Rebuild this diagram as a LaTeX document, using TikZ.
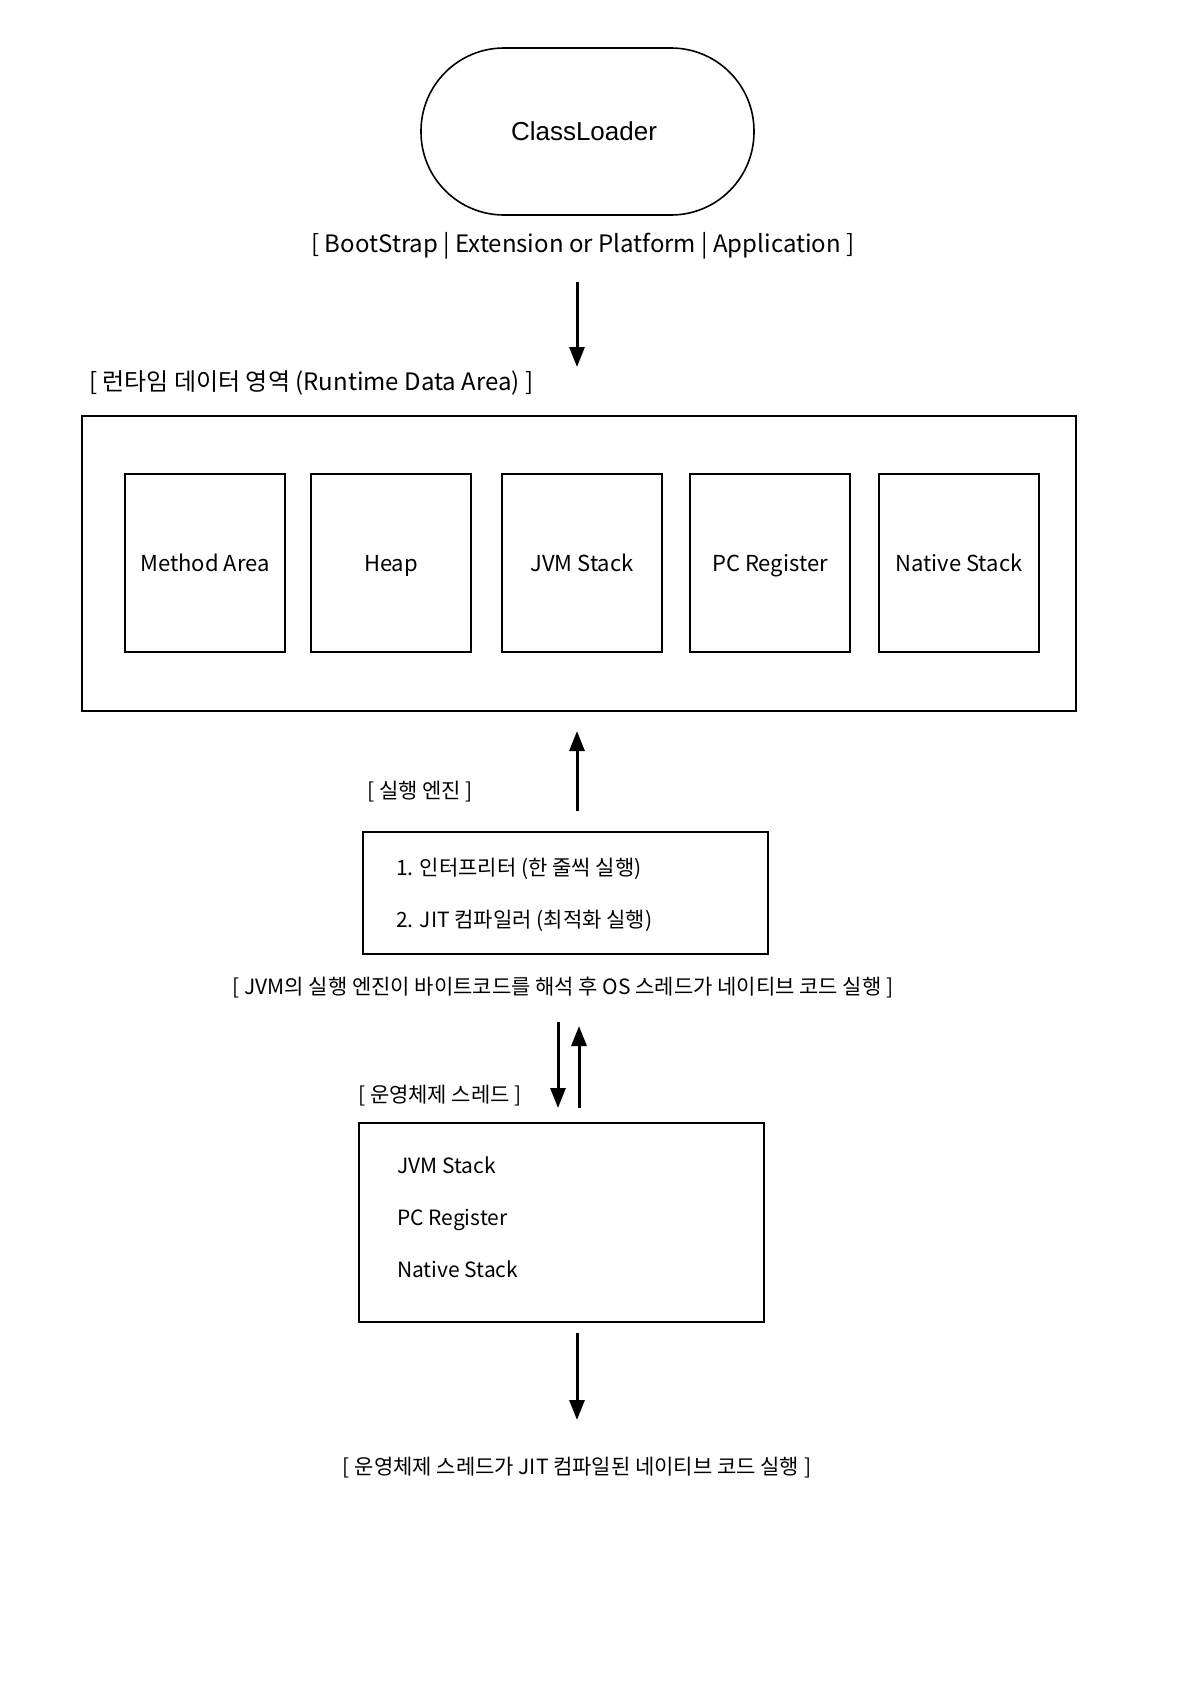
\documentclass[tikz,border=0pt]{standalone}
\usepackage{fontspec}
\setmainfont{Noto Sans CJK KR}
\newfontfamily\clfont{Liberation Sans}
\usetikzlibrary{arrows.meta}
\begin{document}
\begin{tikzpicture}[x=1pt,y=-1pt,
  box/.style={draw,line width=1.6pt,inner sep=0pt},
  area/.style={box,minimum width=160pt,minimum height=178pt,font=\fontsize{22}{26}\selectfont,text height=22pt,text depth=5pt},
  lbl/.style={font=\fontsize{21}{25}\selectfont,inner sep=0pt,text height=22pt,text depth=5pt},
  big/.style={lbl,font=\fontsize{24}{28}\selectfont,text height=24pt,text depth=6pt},
  arr/.style={line width=3pt,-{Triangle[length=20pt,width=15pt]}}]
\useasboundingbox (0,0) rectangle (1190,1684);
\node[box,rounded corners=83pt,minimum width=333pt,minimum height=167pt] (cl) at (587.5,131.5) {};
\node[font=\clfont\fontsize{26}{30}\selectfont,inner sep=0pt] (cltext) at (584,131.5) {ClassLoader};
\node[big] (cltypes) at (583,243) {[ BootStrap | Extension or Platform | Application ]};
\coordinate (a1s) at (577,282);
\coordinate (a1e) at (577,367);
\draw[arr] (a1s) -- (a1e);
\node[big,anchor=west] (rdalbl) at (89,381) {[ 런타임 데이터 영역 (Runtime Data Area) ]};
\node[box,minimum width=994pt,minimum height=295pt] (rda) at (579,563.5) {};
\node[area] (ma) at (205,563) {Method Area};
\node[area] (heap) at (391,563) {Heap};
\node[area] (jvms) at (582,563) {JVM Stack};
\node[area] (pcr) at (770,563) {PC Register};
\node[area] (ns) at (959,563) {Native Stack};
\coordinate (a2s) at (577,811);
\coordinate (a2e) at (577,731);
\draw[arr] (a2s) -- (a2e);
\node[lbl,anchor=west] (enlbl) at (367,790) {[ 실행 엔진 ]};
\node[box,minimum width=405pt,minimum height=122pt] (engine) at (565.5,893) {};
\node[lbl,anchor=west] (interp) at (396,867) {1. 인터프리터 (한 줄씩 실행)};
\node[lbl,anchor=west] (jit) at (396,919) {2. JIT 컴파일러 (최적화 실행)};
\node[lbl] (desc) at (563,986) {[ JVM의 실행 엔진이 바이트코드를 해석 후 OS 스레드가 네이티브 코드 실행 ]};
\coordinate (a3s) at (558,1022);
\coordinate (a3e) at (558,1108);
\draw[arr] (a3s) -- (a3e);
\coordinate (a4s) at (579,1108);
\coordinate (a4e) at (579,1026);
\draw[arr] (a4s) -- (a4e);
\node[lbl,anchor=west] (oslbl) at (358,1094) {[ 운영체제 스레드 ]};
\node[box,minimum width=405pt,minimum height=199pt] (os) at (561.5,1222.5) {};
\node[lbl,anchor=west] (osj) at (397,1165) {JVM Stack};
\node[lbl,anchor=west] (osp) at (397,1217) {PC Register};
\node[lbl,anchor=west] (osn) at (397,1269) {Native Stack};
\coordinate (a5s) at (577,1333);
\coordinate (a5e) at (577,1420);
\draw[arr] (a5s) -- (a5e);
\node[lbl] (final) at (577,1466) {[ 운영체제 스레드가 JIT 컴파일된 네이티브 코드 실행 ]};
\end{tikzpicture}
\end{document}
